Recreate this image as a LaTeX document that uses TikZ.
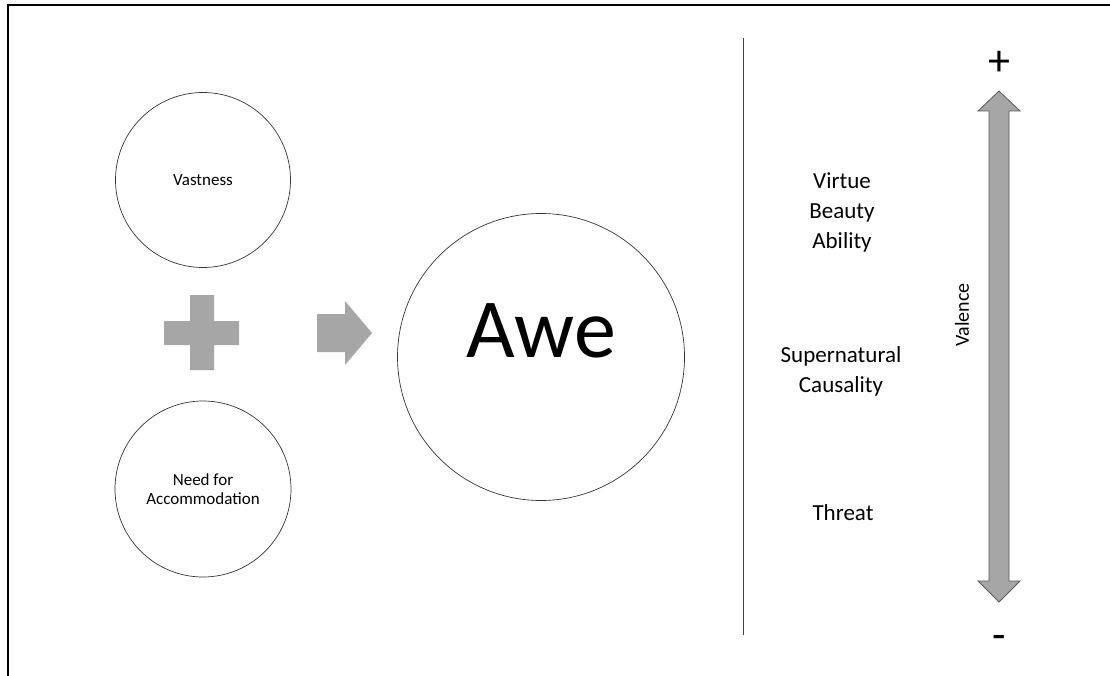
\documentclass[tikz,border=0pt]{standalone}
\usepackage{fontspec}
\setmainfont{Carlito}
\usetikzlibrary{positioning}

\tikzset{
  bubble/.style={circle, draw=black!80, line width=0.7pt, inner sep=0pt,
                 align=center, font=\fontsize{17}{19}\selectfont},
  block/.style={fill=black!35, draw=none},
  lbl/.style={align=center, font=\fontsize{23}{30}\selectfont},
}

\begin{document}
\begin{tikzpicture}[x=1pt,y=-1pt]
\useasboundingbox (0,0) rectangle (1110,676);
% frame, cut off at right and bottom
\draw[line width=1.5pt] (8,676) -- (8,5) -- (1110,5);

% ingredients
\node[bubble, minimum size=175pt] (vast) at (203,180) {Vastness};
\node[bubble, minimum size=176pt] (need) at (203,489) {Need for\\Accommodation};
\fill[block] (190,295) -- (214,295) -- (214,321) -- (239,321) -- (239,345)
  -- (214,345) -- (214,370) -- (190,370) -- (190,345) -- (164,345)
  -- (164,321) -- (190,321) -- cycle;
\fill[block] (317,314) -- (345,314) -- (345,301) -- (372,333) -- (345,365)
  -- (345,352) -- (317,352) -- cycle;

% result
\node[bubble, minimum size=287pt] (awe) at (541,357) {};
\node[anchor=base, font=\fontsize{84}{90}\selectfont] (awetxt) at (awe.center) {Awe};

% divider
\draw[black!75, line width=1pt] (743,38) -- (743,635);

% elicitors
\node[lbl] (good) at (842,212) {Virtue\\Beauty\\Ability};
\node[lbl] (super) at (841,371) {Supernatural\\Causality};
\node[lbl] (threat) at (843,513) {Threat};

% valence axis
\filldraw[fill=black!35, draw=black!65, line width=0.8pt]
  (999,91) -- (1020,111) -- (1009,111) -- (1009,581) -- (1020,581)
  -- (999,602) -- (978,581) -- (989,581) -- (989,111) -- (978,111) -- cycle;
\node[font=\fontsize{20}{24}\selectfont, rotate=90] (val) at (962,315) {Valence};
\node[font=\fontsize{44}{48}\selectfont] (plus) at (999,63) {+};
\node[font=\fontsize{44}{48}\selectfont] (minus) at (999,642) {-};
\end{tikzpicture}
\end{document}
